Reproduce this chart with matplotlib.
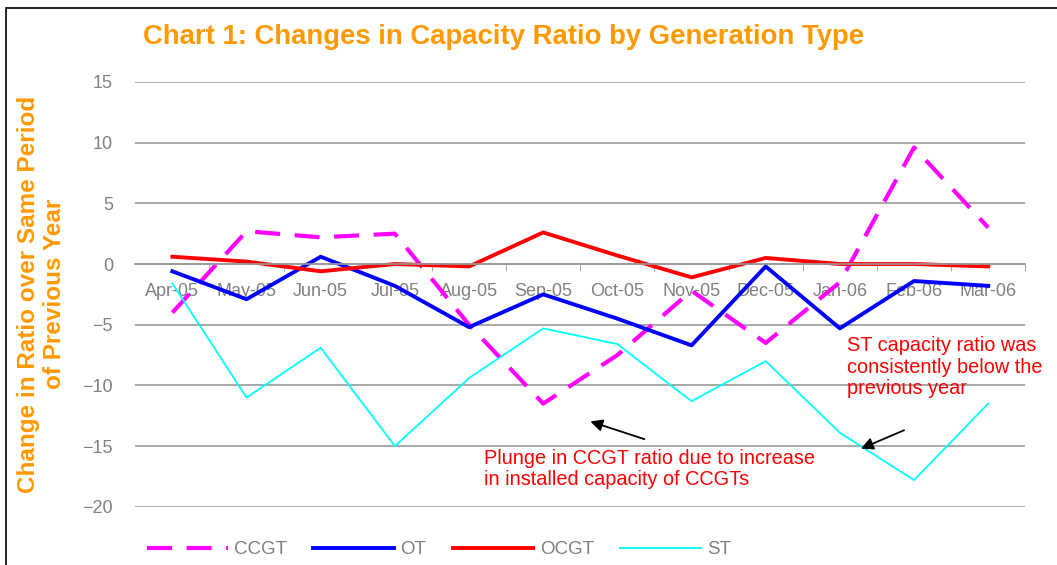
import matplotlib.pyplot as plt
from matplotlib.patches import Rectangle

plt.rcParams['font.family'] = ['Liberation Sans', 'DejaVu Sans']

months = ["Apr-05", "May-05", "Jun-05", "Jul-05", "Aug-05", "Sep-05",
          "Oct-05", "Nov-05", "Dec-05", "Jan-06", "Feb-06", "Mar-06"]
ccgt = [-4.0, 2.7, 2.2, 2.5, -5.0, -11.5, -7.5, -2.2, -6.5, -1.5, 9.6, 3.0]
ot = [-0.6, -2.9, 0.6, -1.8, -5.2, -2.5, -4.5, -6.7, -0.2, -5.3, -1.4, -1.8]
ocgt = [0.6, 0.2, -0.6, 0.0, -0.2, 2.6, 0.7, -1.1, 0.5, 0.0, 0.0, -0.2]
st = [-1.6, -11.0, -6.9, -15.0, -9.4, -5.3, -6.6, -11.3, -8.0, -13.9, -17.8, -11.5]

orange = "#FF9900"
gray = "#808080"

fig = plt.figure(figsize=(10.57, 5.65), dpi=100)
ax = fig.add_axes([0.128, 0.103, 0.842, 0.752])

x = list(range(len(months)))
ax.plot(x, ccgt, color="#FF00FF", lw=3, dashes=(6, 3.5), label="CCGT")
ax.plot(x, ot, color="#0000FF", lw=2.8, label="OT")
ax.plot(x, ocgt, color="#FF0000", lw=2.8, label="OCGT")
ax.plot(x, st, color="#00FFFF", lw=1.3, label="ST")

ax.set_xlim(-0.5, len(months) - 0.5)
ax.set_ylim(-20, 15)
ax.set_yticks(range(-20, 16, 5))
ax.grid(axis="y", color="#999999", lw=1.2)
ax.set_axisbelow(True)

for s in ["top", "right", "left"]:
    ax.spines[s].set_visible(False)
ax.spines["bottom"].set_position(("data", 0))
ax.spines["bottom"].set_color("#999999")
ax.spines["bottom"].set_linewidth(1.2)

ax.set_xticks(x)
ax.set_xticklabels(months)
ax.set_xticks([i + 0.5 for i in range(len(months))], minor=True)
ax.tick_params(axis="x", which="major", length=0, pad=14, labelsize=13, labelcolor=gray)
ax.tick_params(axis="x", which="minor", length=5, color="#999999", direction="out")
ax.tick_params(axis="y", length=0, pad=16, labelsize=13, labelcolor=gray)

ax.set_ylabel("Change in Ratio over Same Period\nof Previous Year", color=orange,
              fontsize=17.5, fontweight="bold", labelpad=12, linespacing=1.15)

fig.text(0.135, 0.935, "Chart 1: Changes in Capacity Ratio by Generation Type",
         color=orange, fontsize=19.8, fontweight="bold", va="center")

ax.annotate("", xy=(5.6, -12.9), xytext=(6.4, -14.5),
            arrowprops=dict(arrowstyle="-|>", color="black", lw=1.3, mutation_scale=18))
ax.text(4.2, -16.9, "Plunge in CCGT ratio due to increase\nin installed capacity of CCGTs",
        color="#FF0000", fontsize=14.3, va="center", linespacing=1.15)

ax.annotate("", xy=(9.25, -15.3), xytext=(9.9, -13.6),
            arrowprops=dict(arrowstyle="-|>", color="black", lw=1.3, mutation_scale=18))
ax.text(9.1, -8.5, "ST capacity ratio was\nconsistently below the\nprevious year",
        color="#FF0000", fontsize=14.3, va="center", linespacing=1.15)

leg = fig.legend(loc="center left", bbox_to_anchor=(0.139, 0.027), ncol=4, frameon=False,
                 fontsize=13.5, handlelength=4.3, columnspacing=1.4, handletextpad=0.35,
                 borderpad=0, borderaxespad=0)
for t in leg.get_texts():
    t.set_color(gray)

fig.patches.append(Rectangle((0.006, -0.01), 1.1, 0.996, transform=fig.transFigure,
                             fill=False, edgecolor="black", lw=1.2))

fig.savefig("out.png", dpi=100)
